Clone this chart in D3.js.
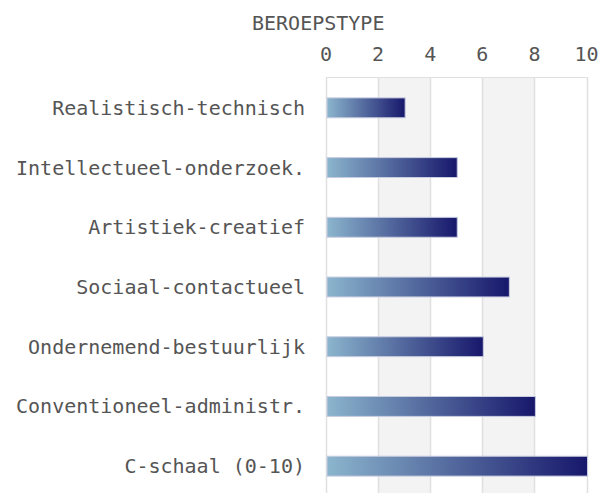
<!DOCTYPE html>
<html><head><meta charset="utf-8">
<script src="https://cdn.jsdelivr.net/npm/d3@7"></script>
<style>body{margin:0;background:#fff}text{font-family:"DejaVu Sans Mono",monospace;fill:#555}</style>
</head><body>
<svg id="c" width="604" height="493"></svg>
<script>
const categories=["Realistisch-technisch","Intellectueel-onderzoek.","Artistiek-creatief","Sociaal-contactueel","Ondernemend-bestuurlijk","Conventioneel-administr.","C-schaal (0-10)"];
const values=[3,5,5,7,6,8,10];
const ticks=[0,2,4,6,8,10];
const title="BEROEPSTYPE";

const svg=d3.select("#c");
const x=d3.scaleLinear().domain([0,10]).range([326,586.5]);
const y=d3.scaleBand().domain(categories).range([78,496]).paddingInner(0.667).paddingOuter(0.333);
const plotTop=77,plotBottom=493;

const defs=svg.append("defs");
const g=defs.append("linearGradient").attr("id","gr").attr("x1","0").attr("x2","1").attr("y1","0").attr("y2","0");
g.append("stop").attr("offset","0").attr("stop-color","#8bb5cd");
g.append("stop").attr("offset","1").attr("stop-color","#17176b");

for(let i=0;i<ticks.length-1;i++){
  if(i%2===1) svg.append("rect").attr("x",x(ticks[i])).attr("y",plotTop).attr("width",x(ticks[i+1])-x(ticks[i])).attr("height",plotBottom-plotTop).attr("fill","#f3f3f3");
}
svg.append("line").attr("x1",x(0)).attr("x2",x(10)).attr("y1",plotTop+0.5).attr("y2",plotTop+0.5).attr("stroke","#e0e0e0");
svg.selectAll("line.grid").data(ticks).join("line").attr("class","grid")
  .attr("x1",d=>Math.round(x(d))+0.5).attr("x2",d=>Math.round(x(d))+0.5).attr("y1",plotTop).attr("y2",plotBottom)
  .attr("stroke","#e0e0e0").attr("stroke-width",1.5);

svg.selectAll("text.tick").data(ticks).join("text").attr("class","tick")
  .attr("x",d=>x(d)).attr("y",61).attr("text-anchor","middle").attr("font-size",20).text(d=>d);
svg.append("text").attr("x",252).attr("y",30).attr("font-size",20).text(title);

svg.selectAll("rect.bar").data(values).join("rect").attr("class","bar")
  .attr("x",x(0)+1).attr("y",(d,i)=>y(categories[i])).attr("height",y.bandwidth())
  .attr("width",d=>x(d)-x(0)).attr("fill","url(#gr)").attr("stroke","#c8cce0").attr("stroke-width",1);

svg.selectAll("text.cat").data(categories).join("text").attr("class","cat")
  .attr("x",305).attr("y",d=>y(d)+y.bandwidth()/2+7).attr("text-anchor","end").attr("font-size",20).text(d=>d);
</script>
</body></html>
